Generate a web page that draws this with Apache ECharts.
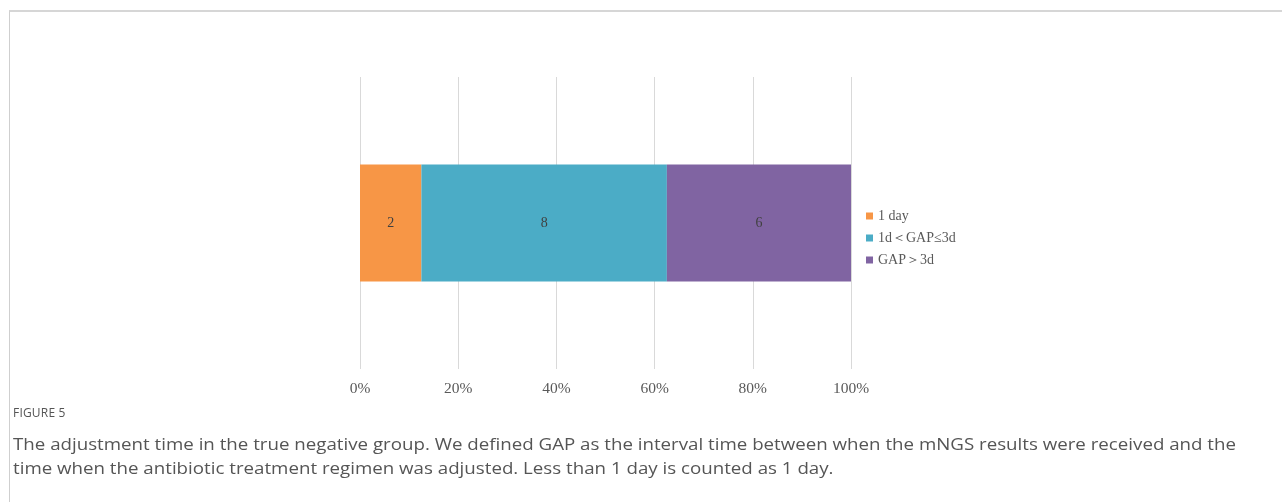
<!DOCTYPE html>
<html>
<head>
<meta charset="utf-8">
<script src="https://cdn.jsdelivr.net/npm/echarts@6/dist/echarts.min.js"></script>
<style>
html, body { margin: 0; padding: 0; background: #fff; overflow: hidden; }
#frame {
  position: absolute; left: 9px; top: 10px; width: 1290px; height: 500px;
  border-top: 2px solid #d6d6d6; border-left: 1px solid #cfcfcf;
}
#myChart { position: absolute; left: 0; top: 0; width: 1282px; height: 502px; }
.cap { position: absolute; left: 13px; font-family: "Open Sans", sans-serif; color: #555; white-space: nowrap; }
#capTitle { top: 404px; font-size: 12px; letter-spacing: 0.2px; }
.line { position: absolute; left: 13px; font-size: 17px; transform-origin: 0 0; }
</style>
</head>
<body>
<div id="frame"></div>
<div id="myChart"></div>
<div class="cap" id="capTitle">FIGURE 5</div>
<div class="cap line" id="l1" style="top:432px">The adjustment time in the true negative group. We defined GAP as the interval time between when the mNGS results were received and the</div>
<div class="cap line" id="l2" style="top:456px">time when the antibiotic treatment regimen was adjusted. Less than 1 day is counted as 1 day.</div>
<script>
// 分组与数据
var categories = ['group'];
var seriesNames = ['1 day', '1d\uFF1CGAP\u22643d', 'GAP\uFF1E3d'];
var counts = [2, 8, 6];
var colors = ['#F79646', '#4BACC6', '#8064A2'];

var total = counts.reduce(function (a, b) { return a + b; }, 0);

// caption 压缩到参考宽度
var l1 = document.getElementById('l1');
var s = 1223 / l1.getBoundingClientRect().width;
l1.style.transform = 'scaleX(' + s + ')';
document.getElementById('l2').style.transform = 'scaleX(' + s + ')';

var myChart = echarts.init(document.getElementById('myChart'));
myChart.setOption({
  animation: false,
  textStyle: { fontFamily: '"Liberation Serif", serif' },
  grid: { left: 360, right: 431, top: 77, bottom: 133 },
  legend: {
    orient: 'vertical',
    left: 861, top: 204,
    itemWidth: 7, itemHeight: 7, itemGap: 8,
    icon: 'rect',
    textStyle: { fontSize: 14, color: '#595959', fontFamily: '"Liberation Serif", serif' },
    data: seriesNames
  },
  xAxis: {
    type: 'value', min: 0, max: 100, interval: 20,
    axisLine: { show: false }, axisTick: { show: false },
    splitLine: { lineStyle: { color: '#d9d9d9', width: 1 } },
    axisLabel: { formatter: '{value}%', fontSize: 15.5, color: '#595959', margin: 12 }
  },
  yAxis: {
    type: 'category', data: categories,
    axisLine: { show: false }, axisTick: { show: false }, axisLabel: { show: false }
  },
  series: seriesNames.map(function (name, i) {
    return {
      name: name, type: 'bar', stack: 'total', barWidth: '40%',
      itemStyle: { color: colors[i] },
      label: {
        show: true, position: 'inside', color: '#404040', fontSize: 14,
        formatter: function () { return String(counts[i]); }
      },
      data: [counts[i] / total * 100]
    };
  })
});
</script>
</body>
</html>
